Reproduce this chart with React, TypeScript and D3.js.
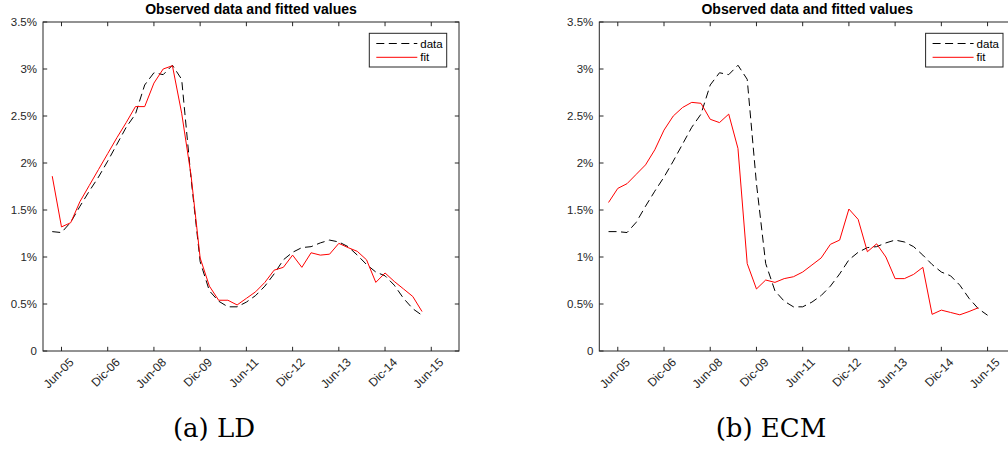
import React from 'react';
import * as d3 from 'd3';

const xTickPositions = [2, 7, 12, 17, 22, 27, 32, 37, 42];
const xTickLabels = ['Jun-05', 'Dic-06', 'Jun-08', 'Dic-09', 'Jun-11', 'Dic-12', 'Jun-13', 'Dic-14', 'Jun-15'];
const yTickValues = [0, 0.5, 1, 1.5, 2, 2.5, 3, 3.5];
const yTickLabels = ['0', '0.5%', '1%', '1.5%', '2%', '2.5%', '3%', '3.5%'];

const ldData = [1.27, 1.26, 1.37, 1.54, 1.70, 1.85, 2.02, 2.20, 2.38, 2.52, 2.83, 2.96, 2.94, 3.04, 2.89, 1.85, 0.95, 0.64, 0.53, 0.47, 0.47, 0.52, 0.59, 0.69, 0.82, 0.97, 1.05, 1.10, 1.11, 1.15, 1.18, 1.16, 1.11, 1.02, 0.92, 0.84, 0.80, 0.70, 0.56, 0.45, 0.38];
const ldFit = [1.86, 1.32, 1.365, 1.59, 1.76, 1.93, 2.10, 2.27, 2.43, 2.60, 2.60, 2.85, 3.00, 3.035, 2.53, 1.88, 0.99, 0.69, 0.54, 0.54, 0.49, 0.56, 0.63, 0.73, 0.86, 0.89, 1.02, 0.89, 1.045, 1.02, 1.03, 1.145, 1.10, 1.06, 0.97, 0.73, 0.83, 0.74, 0.66, 0.58, 0.42];
const ecmData = [1.27, 1.27, 1.26, 1.37, 1.54, 1.70, 1.85, 2.02, 2.20, 2.38, 2.52, 2.83, 2.96, 2.94, 3.04, 2.89, 1.78, 0.93, 0.64, 0.53, 0.47, 0.47, 0.52, 0.59, 0.69, 0.82, 0.97, 1.05, 1.10, 1.11, 1.15, 1.18, 1.16, 1.11, 1.02, 0.92, 0.84, 0.80, 0.70, 0.56, 0.45, 0.38];
const ecmFit = [1.58, 1.73, 1.78, 1.88, 1.98, 2.14, 2.35, 2.50, 2.59, 2.645, 2.635, 2.465, 2.43, 2.52, 2.155, 0.93, 0.66, 0.755, 0.73, 0.77, 0.79, 0.84, 0.915, 0.99, 1.135, 1.18, 1.51, 1.40, 1.056, 1.14, 1.00, 0.77, 0.77, 0.815, 0.89, 0.39, 0.435, 0.41, 0.385, 0.42, 0.46];

const AX = '#262626';
const FONT = 'Liberation Sans, Arial, Helvetica, sans-serif';
const DASH = '8,4.5';

type PanelProps = { left: number; data: number[]; fit: number[]; caption: string; captionX: number };

function Panel({ left, data, fit, caption, captionX }: PanelProps) {
  const top = 22;
  const w = 416;
  const h = 329;
  const x = d3.scaleLinear().domain([0, 45]).range([left, left + w]);
  const y = d3.scaleLinear().domain([0, 3.5]).range([top + h, top]);
  const line = d3.line<number>().x((_, i) => x(i + 1)).y((d) => y(d));
  const right = left + w;
  const bottom = top + h;
  const tl = 4.2;
  const lgX = right - 89.7;
  const lgY = 33.3;
  return (
    <g>
      <text x={(left + right) / 2} y={14} textAnchor="middle" fontFamily={FONT} fontWeight="bold" fontSize={14} fill="#000">
        Observed data and fitted values
      </text>
      <rect x={left} y={top} width={w} height={h} fill="#fff" stroke="none" />
      <path d={line(data) || ''} fill="none" stroke="#000" strokeWidth={1} strokeDasharray={DASH} />
      <path d={line(fit) || ''} fill="none" stroke="#ff0000" strokeWidth={1} />
      <rect x={left} y={top} width={w} height={h} fill="none" stroke={AX} strokeWidth={1} />
      {xTickPositions.map((p, i) => (
        <g key={'xt' + i}>
          <line x1={x(p)} x2={x(p)} y1={bottom} y2={bottom - tl} stroke={AX} />
          <line x1={x(p)} x2={x(p)} y1={top} y2={top + tl} stroke={AX} />
          <text
            transform={`translate(${x(p) + 7},${bottom + 6}) rotate(-45)`}
            textAnchor="end"
            dy="0.7em"
            fontFamily={FONT}
            fontSize={12}
            fill={AX}
          >
            {xTickLabels[i]}
          </text>
        </g>
      ))}
      {yTickValues.map((v, i) => (
        <g key={'yt' + i}>
          <line x1={left} x2={left + tl} y1={y(v)} y2={y(v)} stroke={AX} />
          <line x1={right} x2={right - tl} y1={y(v)} y2={y(v)} stroke={AX} />
          <text x={left - 6} y={y(v)} dy="0.35em" textAnchor="end" fontFamily={FONT} fontSize={11.5} fill={AX}>
            {yTickLabels[i]}
          </text>
        </g>
      ))}
      <rect x={lgX} y={lgY} width={77.4} height={33.7} fill="#fff" stroke={AX} strokeWidth={1} />
      <line x1={lgX + 7} x2={lgX + 48} y1={lgY + 10.2} y2={lgY + 10.2} stroke="#000" strokeDasharray={DASH} />
      <line x1={lgX + 7} x2={lgX + 48} y1={lgY + 24} y2={lgY + 24} stroke="#ff0000" />
      <text x={lgX + 51} y={lgY + 10.2} dy="0.35em" fontFamily={FONT} fontSize={11.5} fill="#000">data</text>
      <text x={lgX + 51} y={lgY + 24} dy="0.35em" fontFamily={FONT} fontSize={11.5} fill="#000">fit</text>
      <text x={captionX} y={437} textAnchor="middle" fontFamily="DejaVu Serif, serif" fontSize={26} fill="#000">
        {caption}
      </text>
    </g>
  );
}

export default function App() {
  return (
    <svg width={1008} height={450} style={{ position: 'absolute', left: 0, top: 0, background: '#fff' }}>
      <rect x={0} y={0} width={1008} height={450} fill="#fff" />
      <Panel left={43} data={ldData} fit={ldFit} caption="(a) LD" captionX={214} />
      <Panel left={599.3} data={ecmData} fit={ecmFit} caption="(b) ECM" captionX={771} />
    </svg>
  );
}
